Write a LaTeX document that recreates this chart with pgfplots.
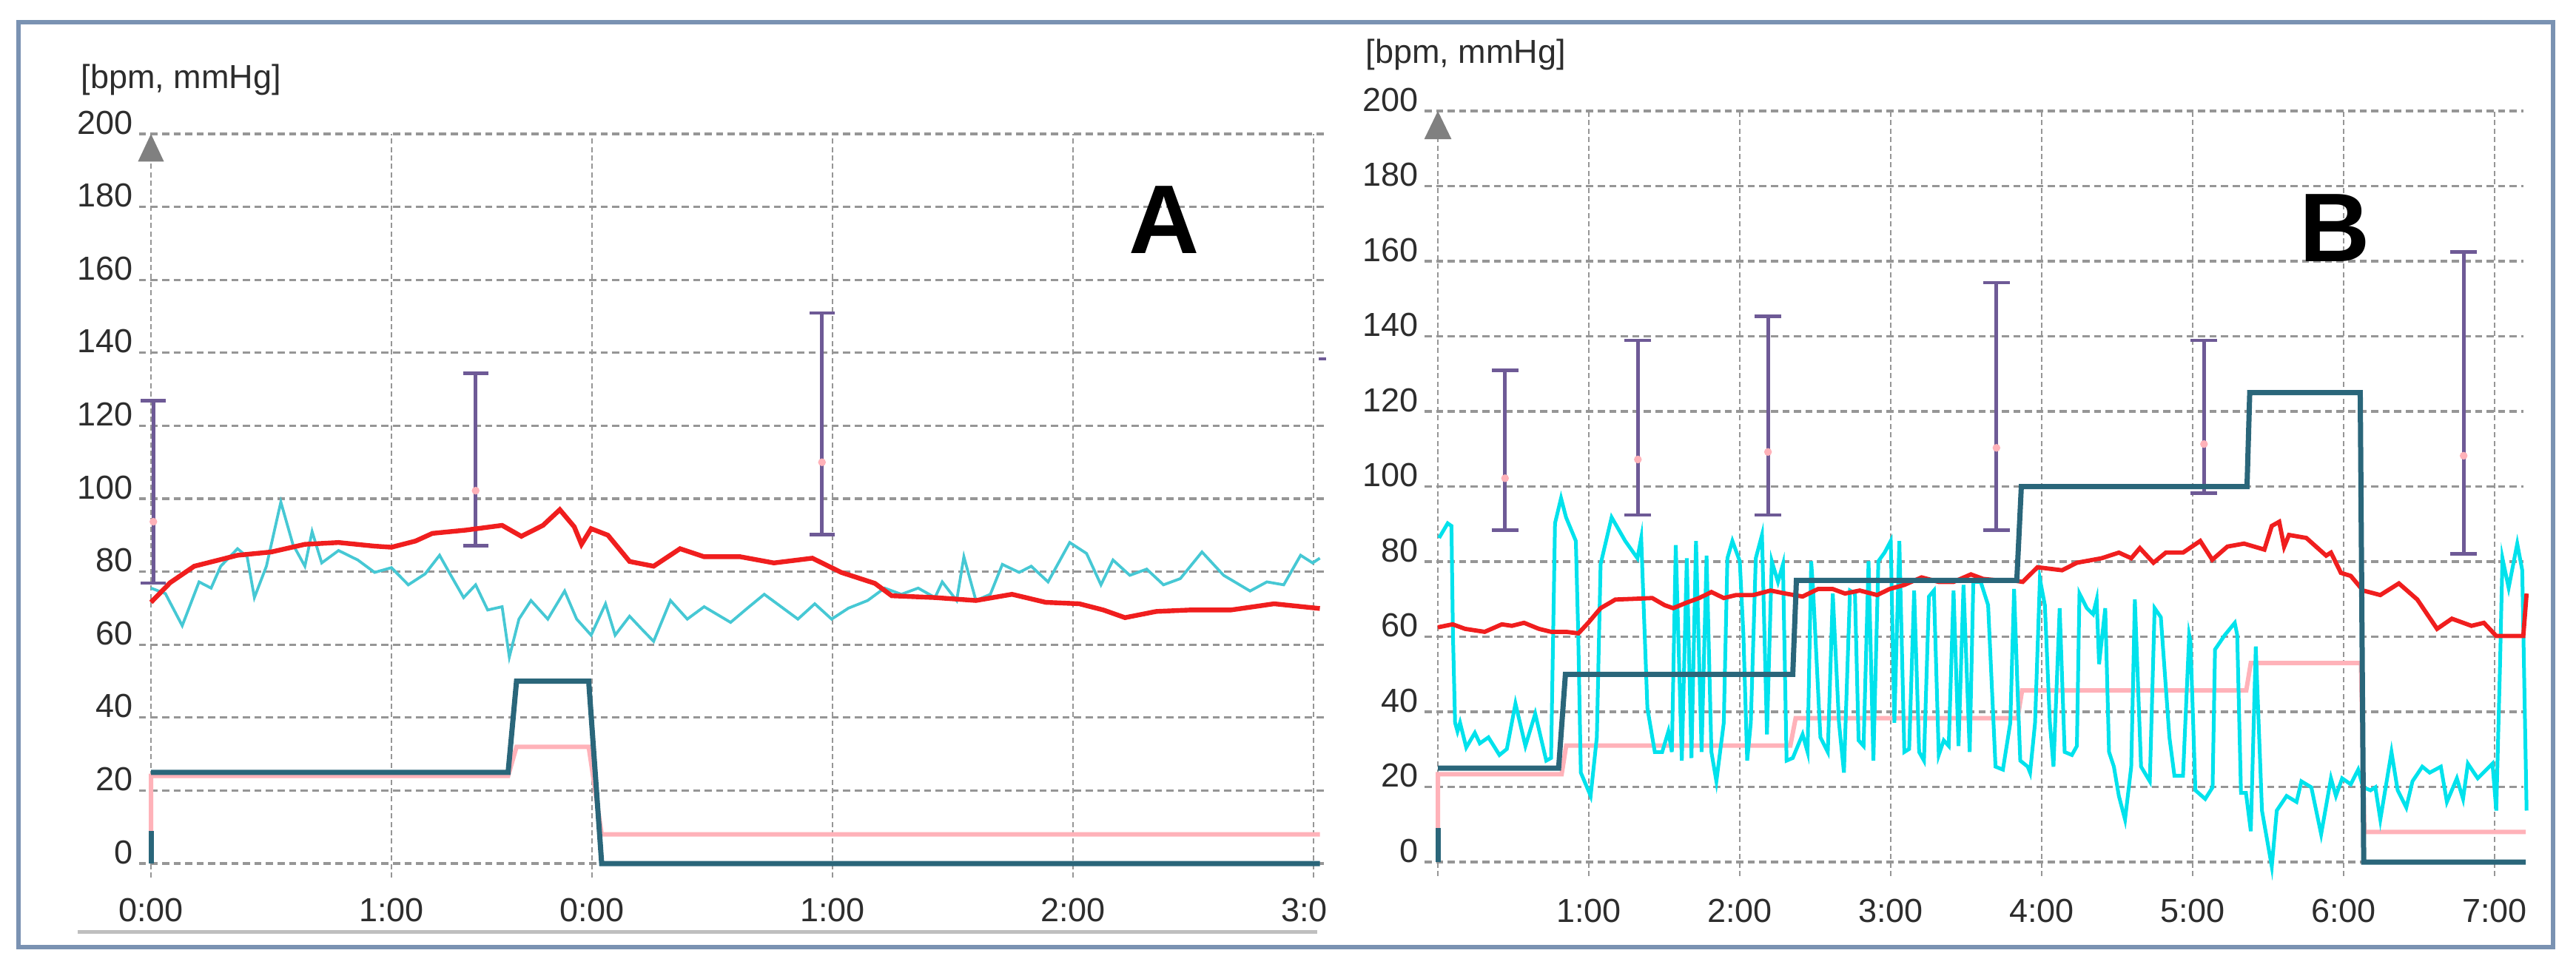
\documentclass[border=0pt]{standalone}
\usepackage{pgfplots}
\pgfplotsset{compat=1.18}
\usepackage{fontspec}
\setmainfont{Liberation Sans}
\definecolor{redc}{RGB}{240,30,30}
\definecolor{cyanA}{RGB}{70,200,212}
\definecolor{cyanB}{RGB}{0,226,236}
\definecolor{tealc}{RGB}{42,102,122}
\definecolor{pinkc}{RGB}{255,178,185}
\definecolor{purp}{RGB}{110,90,150}
\definecolor{gridc}{RGB}{150,150,150}
\definecolor{arrowc}{RGB}{128,128,128}
\definecolor{framec}{RGB}{122,146,178}
\definecolor{labc}{RGB}{45,45,45}
\newcommand\ticksize{\fontsize{11.25}{13}\selectfont}
\pgfplotsset{
  mon/.style={
    axis line style={draw=none},
    major tick length=0pt,
    tick style={draw=none},
    xmajorgrids, ymajorgrids,
    x grid style={gridc, line width=0.65pt, dash pattern=on 1.75pt off 1.1pt},
    y grid style={gridc, line width=0.8pt, dash pattern=on 2.4pt off 1.5pt},
    ytick={0,20,...,200},
    /pgf/number format/assume math mode=true,
    ticklabel style={font=\ticksize, text=labc},
    clip=false,
    anchor=south west,
  }
}
\begin{document}
\begin{tikzpicture}
% outer frame
\draw[framec, line width=1.5pt] (6.25pt,-7.5pt) rectangle (862.5pt,-320pt);
\draw[gray!50, line width=1.25pt] (26.25pt,-314.75pt) -- (445pt,-314.75pt);

% ---------------- Panel A ----------------
\begin{axis}[mon,
  at={(46.9375pt,-296.5pt)},
  x=81.25pt, y=1.2325pt,
  xmin=-0.05, xmax=4.89, ymin=-3.85, ymax=200,
  xtick={0,1,1.834,2.834,3.834,4.834},
  xticklabels={0:00,1:00,0:00,1:00,2:00,3:0\phantom{0}},
  yticklabel style={anchor=base east, inner sep=0pt, xshift=-1.75pt},
  xticklabel style={anchor=base, inner sep=0pt, yshift=-14.75pt},
]
\fill[arrowc] (axis cs:0,200) -- ([xshift=-4.4pt]axis cs:0,192.4) -- ([xshift=4.4pt]axis cs:0,192.4) -- cycle;
% error bars
\addplot[purp, line width=1.2pt, mark=-, mark size=4.3pt, unbounded coords=jump] coordinates {
 (0.01,76.9)(0.01,126.9) (0.01,nan) (1.35,87.1)(1.35,134.4) (1.35,nan) (2.79,90.1)(2.79,150.9)};
\addplot[purp, line width=1pt] coordinates {(4.855,138.3)(4.885,138.3)};
\addplot[pinkc, only marks, mark=*, mark size=1.1pt] coordinates {
 (0.01,93.7)(1.35,102.2)(2.79,110)};
% pink step
\addplot[pinkc, line width=1.5pt] coordinates {
 (0,8)(0,24)(1.485,24)(1.52,32)(1.82,32)(1.874,8)(4.86,8)};
% cyan
\addplot[cyanA, line width=0.95pt] coordinates {
(0,75.5)(0.06,74)(0.13,65.2)(0.2,77.2)(0.25,75.5)(0.29,81.5)(0.36,86.3)(0.40,84.1)(0.43,72.9)(0.48,81.5)(0.54,99.1)(0.59,87.5)(0.64,81.5)(0.67,91)(0.71,82.4)(0.78,85.8)(0.86,83.2)(0.93,79.8)(1.0,81.1)(1.07,76.4)(1.14,79.4)(1.2,84.5)(1.24,79.8)(1.30,72.9)(1.35,76.4)(1.40,69.5)(1.46,70.4)(1.49,56.6)(1.53,67)(1.58,72.1)(1.65,67)(1.72,74.7)(1.77,67)(1.83,62.6)(1.89,71.2)(1.93,62.6)(1.99,67.8)(2.04,64.3)(2.09,60.9)(2.16,72.1)(2.23,67)(2.30,70.4)(2.41,66.1)(2.48,70)(2.55,73.8)(2.62,70.4)(2.69,67)(2.76,71.2)(2.83,67)(2.90,70)(2.98,72.1)(3.05,75.5)(3.12,73.8)(3.19,75.5)(3.26,72.9)(3.29,77.2)(3.35,72.1)(3.38,84.1)(3.43,72.1)(3.49,73.8)(3.54,82)(3.61,79.8)(3.66,81.5)(3.73,77.2)(3.82,88)(3.89,85)(3.95,76.4)(4.0,83.2)(4.07,79)(4.14,80.7)(4.21,76.4)(4.28,78.1)(4.37,85.4)(4.46,79)(4.57,74.7)(4.64,77.2)(4.71,76.4)(4.78,84.5)(4.83,82.4)(4.86,83.7)};
% red
\addplot[redc, line width=1.6pt] coordinates {
(0,71.6)(0.08,77)(0.18,81.5)(0.36,84.5)(0.5,85.4)(0.64,87.5)(0.78,88)(0.93,87)(1.0,86.7)(1.1,88.4)(1.17,90.5)(1.31,91.4)(1.46,92.7)(1.54,89.7)(1.63,92.7)(1.70,97)(1.76,92.3)(1.79,87.5)(1.83,91.8)(1.90,90)(1.99,82.8)(2.09,81.5)(2.20,86.3)(2.30,84.1)(2.45,84.1)(2.59,82.4)(2.75,83.7)(2.87,79.8)(3.01,76.8)(3.08,73.4)(3.26,72.9)(3.43,72.1)(3.58,73.8)(3.72,71.6)(3.86,71.2)(3.96,69.5)(4.05,67.4)(4.18,69.1)(4.32,69.5)(4.49,69.5)(4.67,71.2)(4.86,69.9)};
% teal step
\addplot[tealc, line width=1.75pt] coordinates {
 (0,0)(0,9)};
\addplot[tealc, line width=1.75pt] coordinates {
 (0,25)(1.485,25)(1.52,50)(1.82,50)(1.874,0)(4.86,0)};
\end{axis}

% ---------------- Panel B ----------------
\begin{axis}[mon,
  at={(481.26pt,-296pt)},
  x=51pt, y=1.26875pt,
  xmin=-0.088, xmax=7.19, ymin=-3.74, ymax=200,
  xtick={0,1,...,7},
  xticklabels={,1:00,2:00,3:00,4:00,5:00,6:00,7:00},
  yticklabel style={anchor=base east, inner sep=0pt, xshift=-2pt},
  xticklabel style={anchor=base, inner sep=0pt, yshift=-15.5pt},
]
\fill[arrowc] (axis cs:0,200) -- ([xshift=-4.6pt]axis cs:0,192.5) -- ([xshift=4.6pt]axis cs:0,192.5) -- cycle;
\addplot[purp, line width=1.2pt, mark=-, mark size=4.5pt, unbounded coords=jump] coordinates {
 (0.445,88.3)(0.445,131) (0.445,nan)
 (1.325,92.4)(1.325,138.9) (1.325,nan)
 (2.187,92.4)(2.187,145.3) (2.187,nan)
 (3.70,88.3)(3.70,154.3) (3.70,nan)
 (5.075,98.3)(5.075,138.9) (5.075,nan)
 (6.795,82)(6.795,162.4)};
\addplot[pinkc, only marks, mark=*, mark size=1.1pt] coordinates {
 (0.445,102.2)(1.325,107.2)(2.187,109.2)(3.70,110.3)(5.075,111.3)(6.795,108.2)};
% pink step
\addplot[pinkc, line width=1.5pt] coordinates {
 (0,9)(0,23.4)(0.82,23.4)(0.85,31)(2.335,31)(2.37,38.3)(3.84,38.3)(3.87,45.7)(5.355,45.7)(5.385,53)(6.115,53)(6.137,8)(7.207,8)};
% cyan
\addplot[cyanB, line width=1.25pt] coordinates {
(0.008,86.3)(0.065,90.2)(0.09,89.5)(0.10,60.5)(0.114,37.1)(0.13,34.8)(0.147,37.1)(0.188,30.5)(0.245,34.4)(0.278,31.6)(0.335,33.2)(0.408,28.5)(0.457,30.1)(0.514,42.2)(0.58,30.9)(0.645,39.5)(0.718,27)(0.75,27.7)(0.776,90.2)(0.816,96.9)(0.849,91.8)(0.914,85.5)(0.93,60.5)(0.947,23.8)(1.012,17.6)(1.053,33.2)(1.078,79.3)(1.151,91.8)(1.241,85.5)(1.322,80.9)(1.347,86.3)(1.363,68.4)(1.388,41)(1.437,29.3)(1.486,29.3)(1.527,34.8)(1.55,29.3)(1.576,84.4)(1.616,27)(1.649,80.9)(1.68,27.7)(1.71,85.5)(1.747,29.3)(1.78,81.6)(1.812,29.3)(1.845,21.5)(1.894,37.1)(1.918,80.9)(1.951,85.5)(2.0,80.1)(2.024,60.5)(2.049,27)(2.073,37.1)(2.106,80.9)(2.147,87.1)(2.18,34)(2.212,80.1)(2.253,74.6)(2.286,79.3)(2.31,27)(2.351,27.7)(2.416,34)(2.449,29.3)(2.473,80.1)
(2.485,73)(2.534,33.2)(2.583,29.3)(2.616,71.5)(2.657,37.1)(2.69,23.8)(2.73,72.3)(2.763,71.5)(2.787,32.4)(2.82,30.9)(2.853,80.1)(2.885,27)(2.918,80.1)(2.959,82.4)(3.0,85.5)(3.024,37.1)(3.057,85.5)(3.09,29.3)(3.122,30.1)(3.155,72.3)(3.188,29.3)(3.22,27)(3.253,70.7)(3.286,72.3)(3.318,28.5)(3.351,32.4)(3.384,30.9)(3.416,72.3)(3.449,30.9)(3.482,73.8)(3.523,29.3)(3.547,74.6)(3.596,74.6)(3.645,68.4)(3.694,25.4)(3.743,24.6)(3.792,37.1)(3.817,72.7)(3.841,44.9)(3.858,27)(3.907,25.4)(3.923,23.8)(3.956,37.1)(3.988,75.4)(4.021,68.4)(4.054,37.1)(4.078,25.4)(4.119,67.6)(4.152,29.3)(4.2,28.5)(4.233,30.9)(4.25,71.5)(4.299,67.6)(4.34,66)(4.364,69.9)(4.38,52.7)(4.421,67.6)(4.446,29.3)(4.478,25.4)(4.511,17.6)(4.552,11.3)(4.593,25.4)(4.617,69.9)(4.658,25.4)(4.716,21.5)(4.748,67.6)(4.789,65.2)(4.846,33.2)(4.879,23)(4.936,23)(4.977,60.5)
(4.985,59)(5.0,41)(5.018,19.1)(5.083,16.8)(5.132,19.9)(5.148,56.6)(5.214,60.5)(5.279,63.7)(5.295,60.5)(5.32,18.4)(5.353,18.4)(5.385,8.2)(5.418,57.4)(5.459,13.7)(5.524,-1.2)(5.557,13.7)(5.622,17.6)(5.688,16)(5.72,21.5)(5.786,19.9)(5.851,7.4)(5.916,22.3)(5.949,17.6)(5.99,22.3)(6.047,20.7)(6.096,24.6)(6.129,19.9)(6.178,19.1)(6.21,19.9)(6.243,11.3)(6.317,29.3)(6.358,19.1)(6.415,14.5)(6.456,21.5)(6.521,25.4)(6.57,23.8)(6.644,25.4)(6.684,16)(6.75,22.3)(6.791,16.8)(6.823,26.2)(6.888,22.3)(6.986,26.2)(7.011,13.7)(7.036,52.7)(7.052,80.9)(7.093,73)(7.15,84.8)(7.183,77.7)(7.212,13.7)};
% red
\addplot[redc, line width=1.45pt] coordinates {
(0,62.5)(0.098,63.3)(0.18,62.1)(0.31,61.3)(0.424,63.3)(0.49,62.9)(0.571,63.7)(0.669,62.1)(0.751,61.3)(0.849,61.3)(0.931,60.9)(0.996,63.7)(1.078,67.6)(1.176,69.9)(1.306,70.1)(1.42,70.3)(1.502,68.4)(1.559,67.6)(1.649,69.1)(1.731,70.3)(1.812,71.9)(1.894,70.3)(1.976,71.1)(2.09,71.1)(2.204,72.3)(2.302,71.5)(2.416,70.7)(2.518,72.7)(2.616,72.7)(2.697,71.5)(2.795,72.3)(2.91,71.1)(2.992,72.7)(3.09,73.8)(3.204,75.8)(3.318,74.6)(3.416,74.6)(3.531,76.6)(3.612,75.4)(3.71,75)(3.808,75)(3.874,74.6)(3.972,78.5)(4.135,77.7)(4.233,79.7)(4.397,80.9)(4.511,82.4)(4.593,80.9)(4.65,83.6)(4.74,79.7)(4.822,82.4)(4.936,82.4)(5.05,85.5)(5.13,80.5)(5.23,84)(5.34,84.8)(5.475,83.2)(5.524,89.5)(5.573,90.6)(5.606,84)(5.638,87.1)(5.753,86.3)(5.884,81.6)(5.916,82.4)(5.982,77)(6.047,76.2)(6.129,72.3)(6.243,71.1)(6.366,74.2)(6.488,69.9)(6.619,62.1)(6.717,64.8)(6.847,62.9)(6.929,63.7)(7.011,60.2)(7.19,60.2)(7.212,71.5)};
% teal step
\addplot[tealc, line width=1.75pt] coordinates {(0,0)(0,9)};
\addplot[tealc, line width=1.75pt] coordinates {
 (0,25)(0.80,25)(0.845,50)(2.351,50)(2.375,75)(3.835,75)(3.865,100)(5.36,100)(5.378,125)(6.11,125)(6.133,0)(7.207,0)};
\end{axis}

% labels
\node[anchor=west, inner sep=0pt, font=\ticksize, text=labc] at (27.25pt,-27pt) {[bpm, mmHg]};
\node[anchor=west, inner sep=0pt, font=\ticksize, text=labc] at (461.25pt,-18.5pt) {[bpm, mmHg]};
\node[inner sep=0pt, font=\fontsize{33}{36}\selectfont\bfseries] at (393.25pt,-74.25pt) {A};
\node[inner sep=0pt, font=\fontsize{33}{36}\selectfont\bfseries] at (788.75pt,-77pt) {B};

\pgfresetboundingbox
\useasboundingbox (0pt,0pt) rectangle (870.25pt,-328.75pt);
\end{tikzpicture}
\end{document}
